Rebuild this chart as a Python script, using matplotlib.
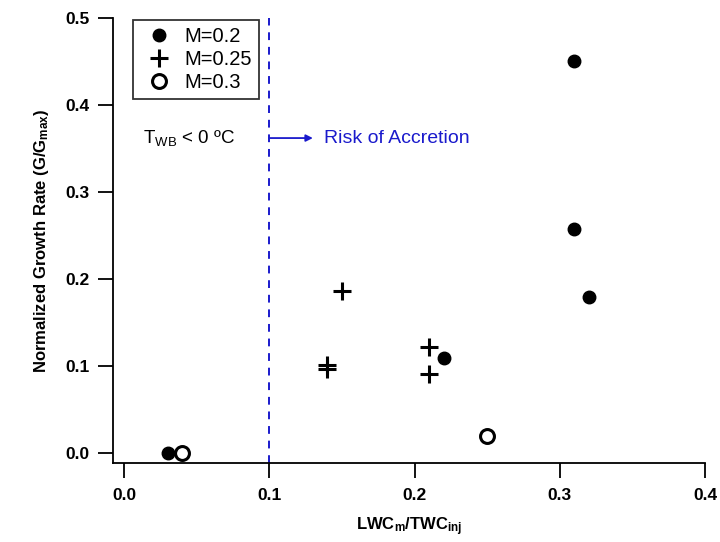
import numpy as np
import matplotlib
matplotlib.use("Agg")
import matplotlib.pyplot as plt

plt.rcParams['font.family'] = ['Liberation Sans', 'DejaVu Sans']
plt.rcParams['mathtext.fontset'] = 'custom'
plt.rcParams['mathtext.rm'] = 'Liberation Sans'
plt.rcParams['mathtext.bf'] = 'Liberation Sans:bold'
plt.rcParams['mathtext.it'] = 'Liberation Sans:italic'

# datos
lwc_m02 = [0.03, 0.22, 0.31, 0.31, 0.32]
g_m02 = [0.0, 0.109, 0.45, 0.257, 0.179]

lwc_m025 = [0.14, 0.14, 0.15, 0.21, 0.21]
g_m025 = [0.101, 0.097, 0.186, 0.122, 0.091]

lwc_m03 = [0.04, 0.25]
g_m03 = [0.0, 0.02]

limite = 0.1  # LWC/TWC donde empieza el riesgo

fig = plt.figure(figsize=(7.2, 5.42), dpi=100)
ax = fig.add_axes([113/720, 79/542, 592/720, 445/542])

ax.plot(lwc_m02, g_m02, 'o', color='black', markersize=9, linestyle='none', label='M=0.2')
ax.plot(lwc_m025, g_m025, '+', color='black', markersize=13, markeredgewidth=2.2,
        linestyle='none', label='M=0.25')
ax.plot(lwc_m03, g_m03, 'o', markerfacecolor='white', markeredgecolor='black',
        markersize=10, markeredgewidth=2.2, linestyle='none', label='M=0.3')

ax.axvline(limite, color='#1a1acc', linestyle=(0, (4, 3.5)), linewidth=1.4)

# flecha y textos
ax.annotate('', xy=(limite + 0.030, 0.362), xytext=(limite, 0.362),
            arrowprops=dict(arrowstyle='-|>', color='#1a1acc', lw=1.3,
                            mutation_scale=10, shrinkA=0, shrinkB=0))
ax.text(limite + 0.0375, 0.362, 'Risk of Accretion', color='#1a1acc',
        fontsize=14, va='center', ha='left')
ax.text(0.013, 0.362, r'T$_{\mathrm{WB}}$ < 0 ºC', color='black',
        fontsize=13.5, va='center', ha='left')

ax.set_xlim(-0.0076, 0.4)
ax.set_ylim(-0.0115, 0.5)
ax.set_xticks([0.0, 0.1, 0.2, 0.3, 0.4])
ax.set_yticks([0.0, 0.1, 0.2, 0.3, 0.4, 0.5])
ax.set_xticklabels(['0.0', '0.1', '0.2', '0.3', '0.4'], fontweight='bold', fontsize=12.5)
ax.set_yticklabels(['0.0', '0.1', '0.2', '0.3', '0.4', '0.5'], fontweight='bold', fontsize=12.5)
ax.tick_params(direction='out', length=11, width=1.3, pad=6, colors='black')
ax.tick_params(axis='x', pad=7)

for lado in ['top', 'right']:
    ax.spines[lado].set_visible(False)
for lado in ['left', 'bottom']:
    ax.spines[lado].set_linewidth(1.3)

ax.set_xlabel(r'LWC$_{\mathbf{m}}$/TWC$_{\mathbf{inj}}$', fontweight='bold', fontsize=12, labelpad=9)
ax.set_ylabel(r'Normalized Growth Rate (G/G$_{\mathbf{max}}$)', fontweight='bold', fontsize=12, labelpad=10)

leg = ax.legend(loc='upper left', bbox_to_anchor=(133/720, 1 - 20/542),
                bbox_transform=fig.transFigure, frameon=True, fancybox=False,
                edgecolor='black', fontsize=14.5, handletextpad=0.3,
                borderpad=0.35, labelspacing=0.2, handlelength=1.9,
                borderaxespad=0)
leg.get_frame().set_linewidth(1.3)

fig.savefig('out.png', dpi=100)
